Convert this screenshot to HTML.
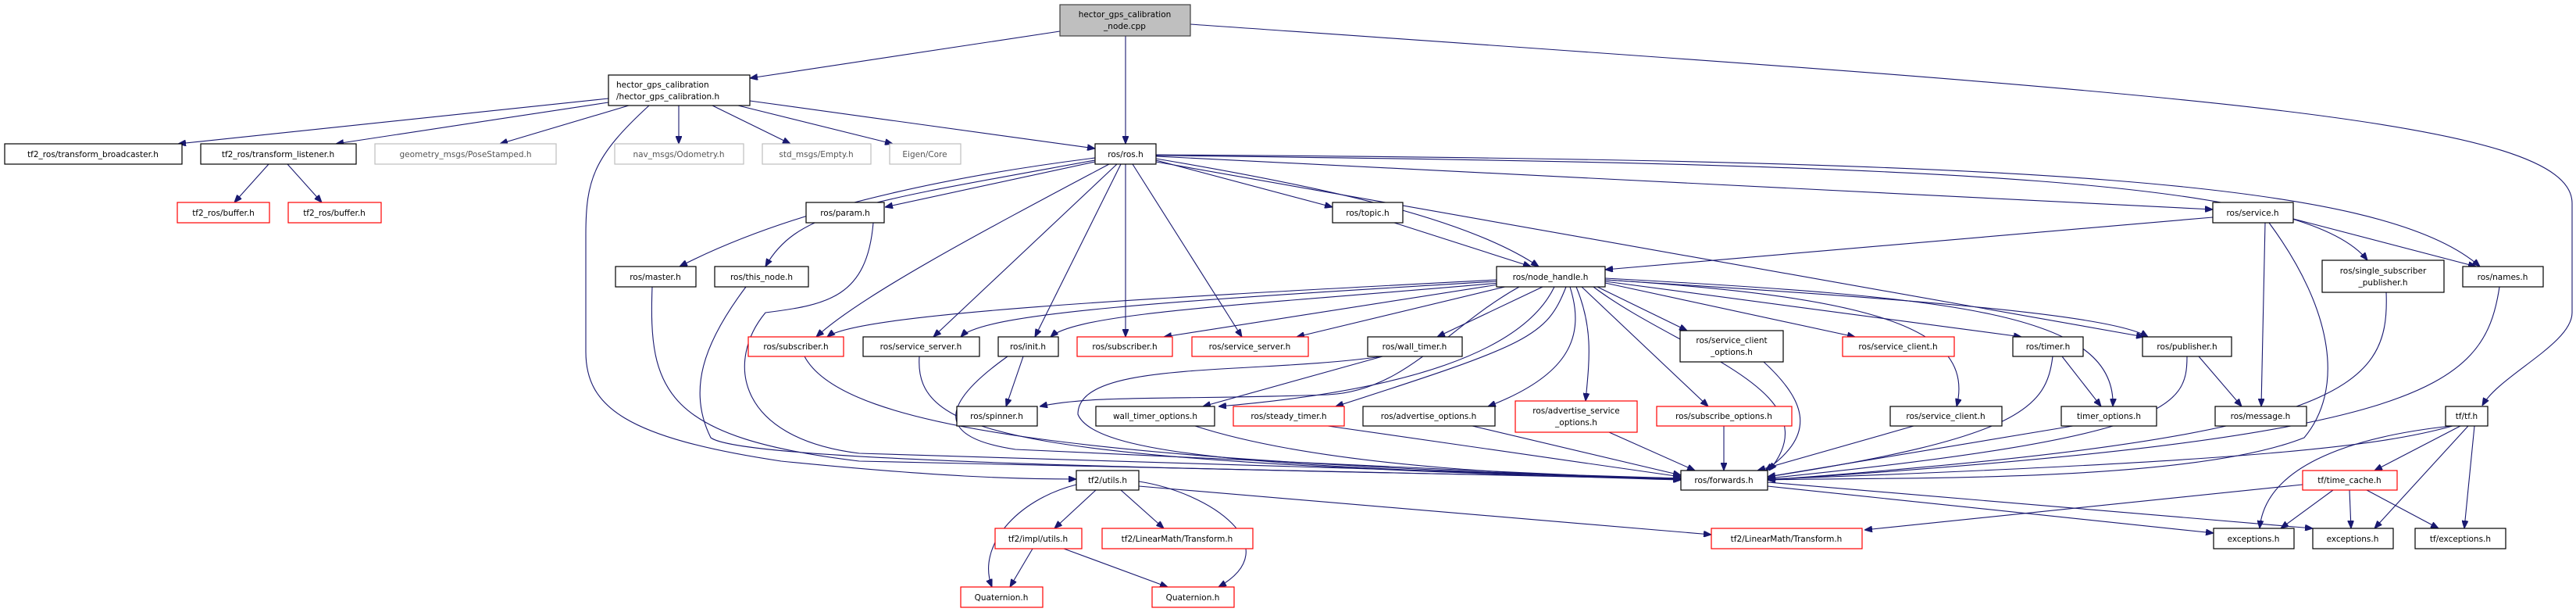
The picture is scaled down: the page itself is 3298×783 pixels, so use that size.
<!DOCTYPE html>
<html><head><meta charset="utf-8"><style>
html,body{margin:0;padding:0;background:#fff;}
svg{display:block;}
text{font-family:"DejaVu Sans","Liberation Sans",sans-serif;font-size:10.5px;fill:#000;text-anchor:middle;}
.b{fill:#fff;stroke:#000;stroke-width:1.2;}
.r{fill:#fff;stroke:#ff0000;stroke-width:1.2;}
.g{fill:#fff;stroke:#bfbfbf;stroke-width:1.2;}
.gt{fill:#555;}
path,line{fill:none;stroke:#191970;stroke-width:1.1;}
</style></head><body>
<svg width="3298" height="783" viewBox="0 0 3298 783" xmlns="http://www.w3.org/2000/svg">
<defs><marker id="a" viewBox="0 0 10 8" refX="10" refY="4" markerWidth="10" markerHeight="8" markerUnits="userSpaceOnUse" orient="auto"><path d="M0,0 L10,4 L0,8 Z" style="fill:#191970;stroke:#191970;stroke-width:1"/></marker></defs>
<g marker-end="url(#a)">
<path d="M1357,40 L960,100"/>
<path d="M1441,46 L1441,184"/>
<path d="M1524,31 C2800,120 3293,150 3293,260 L3293,400 C3293,440 3200,480 3178,519"/>
<path d="M779,126 L228,184"/>
<path d="M779,131 L430,184"/>
<path d="M805,135 L640,184"/>
<path d="M869,135 L869,184"/>
<path d="M912,135 L1012,184"/>
<path d="M945,135 L1143,184"/>
<path d="M960,129 L1402,190"/>
<path d="M831,135 C760,200 750,230 750,300 L750,450 C750,520 800,560 1000,590 C1200,610 1300,613 1378,613"/>
<path d="M344,210 L300,259"/>
<path d="M368,210 L412,259"/>
<path d="M1402,202 C1100,240 950,300 870,341"/>
<path d="M1402,205 C1100,260 1020,270 980,341"/>
<path d="M1402,207 L1133,265"/>
<path d="M1420,210 C1250,300 1100,380 1045,431"/>
<path d="M1430,210 L1195,431"/>
<path d="M1435,210 L1325,431"/>
<path d="M1441,210 L1441,431"/>
<path d="M1450,210 L1590,431"/>
<path d="M1480,205 L1706,265"/>
<path d="M1480,203 C1700,240 1880,280 1970,341"/>
<path d="M1480,200 L2833,268"/>
<path d="M1480,199 C2500,210 2950,230 3031,333"/>
<path d="M1480,198 C2600,205 3050,230 3175,341"/>
<path d="M1480,207 L2745,431"/>
<path d="M1916,358 C1500,380 1100,400 1059,431"/>
<path d="M1916,360 C1500,385 1260,400 1230,431"/>
<path d="M1920,362 C1600,390 1380,400 1345,431"/>
<path d="M1925,363 L1490,431"/>
<path d="M1935,365 L1660,431"/>
<path d="M1975,367 L1840,431"/>
<path d="M1945,367 C1850,420 1800,500 1700,505 C1500,512 1400,505 1331,520"/>
<path d="M1310,456 L1288,520"/>
<path d="M1290,456 C1200,520 1200,560 1300,575 L2152,614"/>
<path d="M1770,456 L1540,520"/>
<path d="M1770,456 C1600,480 1380,460 1380,530 C1400,580 1600,600 2152,612"/>
<path d="M1990,367 C1950,450 1800,500 1560,520"/>
<path d="M2005,367 C1980,430 1960,440 1710,520"/>
<path d="M2010,367 C2030,430 2010,480 1905,520"/>
<path d="M2018,367 C2040,420 2035,460 2030,513"/>
<path d="M2025,367 L2187,520"/>
<path d="M2045,367 L2160,423"/>
<path d="M2055,362 L2375,431"/>
<path d="M2055,360 L2588,431"/>
<path d="M2055,358 C2400,380 2700,400 2750,431"/>
<path d="M2055,358 C2400,380 2530,420 2505,520"/>
<path d="M2055,356 C2500,380 2710,400 2705,520"/>
<path d="M2040,367 C2150,450 2350,500 2265,602"/>
<path d="M2833,278 L2055,345"/>
<path d="M2936,280 L3170,341"/>
<path d="M2900,285 L2895,520"/>
<path d="M2905,285 C2990,400 3000,500 2950,560 C2800,620 2400,610 2263,614"/>
<path d="M1785,285 L1960,341"/>
<path d="M1118,285 C1110,380 1060,390 980,400 C930,460 940,560 1100,580 L2152,612"/>
<path d="M835,367 C830,500 850,560 1100,590 L2152,613"/>
<path d="M955,367 C900,440 880,500 910,560 C950,590 1500,600 2152,612"/>
<path d="M1030,456 C1080,550 1400,590 2152,613"/>
<path d="M1177,456 C1170,560 1300,590 2152,614"/>
<path d="M1530,545 C1700,600 2000,610 2152,612"/>
<path d="M1700,545 L2152,610"/>
<path d="M1885,545 L2152,608"/>
<path d="M2060,553 L2170,602"/>
<path d="M2207,545 L2207,602"/>
<path d="M2258,463 C2320,520 2320,560 2260,602"/>
<path d="M2450,545 L2250,602"/>
<path d="M2628,456 C2620,520 2590,560 2263,610"/>
<path d="M2640,456 L2690,520"/>
<path d="M2654,545 L2263,610"/>
<path d="M2815,456 L2870,520"/>
<path d="M2800,456 C2800,520 2780,560 2263,612"/>
<path d="M3055,374 C3060,500 3000,560 2263,614"/>
<path d="M3200,367 C3180,500 3100,560 2263,614"/>
<path d="M3140,545 C3050,570 2900,590 2263,613"/>
<path d="M3150,545 L3040,602"/>
<path d="M3138,545 C3000,560 2900,600 2893,676"/>
<path d="M3160,545 L3040,676"/>
<path d="M3168,545 L3155,676"/>
<path d="M2987,627 L2920,676"/>
<path d="M3008,627 L3010,676"/>
<path d="M3030,627 L3122,676"/>
<path d="M2948,620 L2387,678"/>
<path d="M2263,622 L2834,682"/>
<path d="M2263,617 L2961,676"/>
<path d="M1403,627 L1350,676"/>
<path d="M1435,627 L1490,676"/>
<path d="M1458,622 L2191,684"/>
<path d="M1378,620 C1300,640 1250,700 1270,751"/>
<path d="M1458,616 C1550,630 1650,700 1560,751"/>
<path d="M1322,702 L1293,751"/>
<path d="M1362,702 L1495,751"/>
</g>

<rect x="1357" y="6" width="167" height="40" style="fill:#bfbfbf;stroke:#404040;stroke-width:1.2"/>
<text x="1440" y="22">hector_gps_calibration</text><text x="1440" y="37">_node.cpp</text>
<rect class="b" x="779" y="96" width="181" height="39"/>
<text x="789" y="112" style="text-anchor:start">hector_gps_calibration</text><text x="789" y="127" style="text-anchor:start">/hector_gps_calibration.h</text>

<rect class="b" x="6" y="184" width="227" height="26"/><text x="119" y="201">tf2_ros/transform_broadcaster.h</text>
<rect class="b" x="257" y="184" width="199" height="26"/><text x="356" y="201">tf2_ros/transform_listener.h</text>
<rect class="g" x="480" y="184" width="232" height="26"/><text class="gt" x="596" y="201">geometry_msgs/PoseStamped.h</text>
<rect class="g" x="787" y="184" width="165" height="26"/><text class="gt" x="869" y="201">nav_msgs/Odometry.h</text>
<rect class="g" x="976" y="184" width="139" height="26"/><text class="gt" x="1045" y="201">std_msgs/Empty.h</text>
<rect class="g" x="1139" y="184" width="91" height="26"/><text class="gt" x="1184" y="201">Eigen/Core</text>
<rect class="b" x="1402" y="184" width="78" height="26"/><text x="1441" y="201">ros/ros.h</text>

<rect class="r" x="227" y="259" width="118" height="26"/><text x="286" y="276">tf2_ros/buffer.h</text>
<rect class="r" x="369" y="259" width="119" height="26"/><text x="428" y="276">tf2_ros/buffer.h</text>
<rect class="b" x="1032" y="259" width="100" height="26"/><text x="1082" y="276">ros/param.h</text>
<rect class="b" x="1706" y="259" width="90" height="26"/><text x="1751" y="276">ros/topic.h</text>
<rect class="b" x="2833" y="259" width="103" height="26"/><text x="2884" y="276">ros/service.h</text>

<rect class="b" x="788" y="341" width="103" height="26"/><text x="839" y="358">ros/master.h</text>
<rect class="b" x="915" y="341" width="120" height="26"/><text x="975" y="358">ros/this_node.h</text>
<rect class="b" x="1916" y="341" width="139" height="26"/><text x="1985" y="358">ros/node_handle.h</text>
<rect class="b" x="2973" y="333" width="156" height="41"/><text x="3051" y="350">ros/single_subscriber</text><text x="3051" y="365">_publisher.h</text>
<rect class="b" x="3153" y="341" width="103" height="26"/><text x="3204" y="358">ros/names.h</text>

<rect class="r" x="958" y="431" width="122" height="25"/><text x="1019" y="447">ros/subscriber.h</text>
<rect class="b" x="1105" y="431" width="149" height="25"/><text x="1179" y="447">ros/service_server.h</text>
<rect class="b" x="1278" y="431" width="77" height="25"/><text x="1316" y="447">ros/init.h</text>
<rect class="r" x="1379" y="431" width="122" height="25"/><text x="1440" y="447">ros/subscriber.h</text>
<rect class="r" x="1526" y="431" width="149" height="25"/><text x="1600" y="447">ros/service_server.h</text>
<rect class="b" x="1751" y="431" width="121" height="25"/><text x="1811" y="447">ros/wall_timer.h</text>
<rect class="b" x="2151" y="423" width="132" height="40"/><text x="2217" y="439">ros/service_client</text><text x="2217" y="454">_options.h</text>
<rect class="r" x="2359" y="431" width="143" height="25"/><text x="2430" y="447">ros/service_client.h</text>
<rect class="b" x="2577" y="431" width="90" height="25"/><text x="2622" y="447">ros/timer.h</text>
<rect class="b" x="2743" y="431" width="114" height="25"/><text x="2800" y="447">ros/publisher.h</text>

<rect class="b" x="1225" y="520" width="103" height="25"/><text x="1276" y="536">ros/spinner.h</text>
<rect class="b" x="1403" y="520" width="152" height="25"/><text x="1479" y="536">wall_timer_options.h</text>
<rect class="r" x="1579" y="520" width="142" height="25"/><text x="1650" y="536">ros/steady_timer.h</text>
<rect class="b" x="1745" y="520" width="169" height="25"/><text x="1829" y="536">ros/advertise_options.h</text>
<rect class="r" x="1940" y="513" width="156" height="40"/><text x="2018" y="529">ros/advertise_service</text><text x="2018" y="544">_options.h</text>
<rect class="r" x="2121" y="520" width="173" height="25"/><text x="2207" y="536">ros/subscribe_options.h</text>
<rect class="b" x="2420" y="520" width="143" height="25"/><text x="2491" y="536">ros/service_client.h</text>
<rect class="b" x="2639" y="520" width="122" height="25"/><text x="2700" y="536">timer_options.h</text>
<rect class="b" x="2836" y="520" width="117" height="25"/><text x="2894" y="536">ros/message.h</text>
<rect class="b" x="3131" y="520" width="54" height="25"/><text x="3158" y="536">tf/tf.h</text>

<rect class="b" x="1378" y="602" width="80" height="25"/><text x="1418" y="618">tf2/utils.h</text>
<rect class="b" x="2152" y="602" width="111" height="25"/><text x="2207" y="618">ros/forwards.h</text>
<rect class="r" x="2948" y="602" width="121" height="25"/><text x="3008" y="618">tf/time_cache.h</text>

<rect class="r" x="1274" y="676" width="111" height="26"/><text x="1329" y="693">tf2/impl/utils.h</text>
<rect class="r" x="1411" y="676" width="193" height="26"/><text x="1507" y="693">tf2/LinearMath/Transform.h</text>
<rect class="r" x="2191" y="676" width="193" height="26"/><text x="2287" y="693">tf2/LinearMath/Transform.h</text>
<rect class="b" x="2834" y="676" width="103" height="26"/><text x="2885" y="693">exceptions.h</text>
<rect class="b" x="2961" y="676" width="103" height="26"/><text x="3012" y="693">exceptions.h</text>
<rect class="b" x="3092" y="676" width="116" height="26"/><text x="3150" y="693">tf/exceptions.h</text>

<rect class="r" x="1230" y="751" width="105" height="26"/><text x="1282" y="768">Quaternion.h</text>
<rect class="r" x="1475" y="751" width="105" height="26"/><text x="1527" y="768">Quaternion.h</text>
</svg>
</body></html>
